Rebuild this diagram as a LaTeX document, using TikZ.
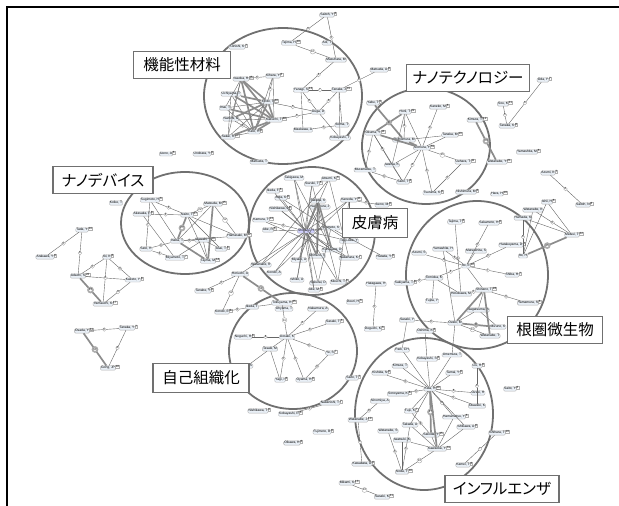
\documentclass[tikz,border=0pt]{standalone}
\usepackage{fontspec}
\setmainfont{Liberation Sans}
\newfontfamily\jpfont[RawFeature=+palt]{Noto Sans CJK JP}
\definecolor{rim}{HTML}{707070}
\definecolor{pill}{HTML}{EAF0F7}

\begin{document}
\begin{tikzpicture}[x=1pt,y=-1pt,
  au/.style={draw=gray!60,fill=pill,rounded corners=1.2pt,inner sep=0.7pt,
    font=\fontsize{3.3}{3.3}\selectfont},
  deg/.style={label={[degbox]east:#1}},
  degbox/.style={draw=gray!60,fill=white,inner sep=0.35pt,yshift=1.2pt,xshift=-0.5pt,
    font=\fontsize{3}{3}\selectfont},
  wt/.style={circle,draw=gray!65,fill=white,inner sep=0.45pt,
    font=\fontsize{2.8}{2.8}\selectfont},
  ed/.style={draw=black!60,line width=0.4pt},
  hv/.style={line width=1.7pt,draw=black!45},
  grp/.style={draw=rim,line width=1.8pt},
  topic/.style={draw=rim,line width=1.8pt,fill=white,minimum height=27pt,
    inner sep=0pt,font=\jpfont\fontsize{15.5}{15.5}\selectfont}]

\useasboundingbox (0,0) rectangle (619,506);
\draw[line width=1.6pt] (7,506) -- (7,7) -- (619,7);

% topic circles
\draw[grp] (283,96) ellipse [x radius=79pt, y radius=68pt];
\draw[grp] (426,146) ellipse [x radius=64pt, y radius=58pt];
\draw[grp] (185,223) ellipse [x radius=64pt, y radius=51pt];
\draw[grp] (312,231) ellipse [x radius=63pt, y radius=64pt];
\draw[grp] (477,275) ellipse [x radius=71pt, y radius=74pt];
\draw[grp] (293,351) ellipse [x radius=64pt, y radius=58pt];
\draw[grp] (424,414) ellipse [x radius=69pt, y radius=76pt];

% functional materials
\node[au,deg=6] (saitohY) at (327,15) {Saitoh, Y};
\node[au,deg=10] (tejimaH) at (289,43) {Tejima, H};
\node[au] (aoiT) at (327,43) {Aoi, T};
\node[au,deg=7] (konishiK) at (237,47) {Konishi, K};
\node[au] (masuharaM) at (336,60) {Masuhara, M};
\node[au,deg=6] (matsudaA) at (379,70) {Matsuda, A};
\node[au,deg=6] (kiharaY) at (273,76) {Kihara, Y};
\node[au,deg=15] (iwaokaH) at (241,79) {Iwaoka, H};
\node[au] (uchiyamaT) at (231,94) {Uchiyama, T};
\node[au,deg=13] (yanagiS) at (301,90) {Yanagi, S};
\node[au,deg=15] (tanakaJ) at (339,90) {Tanaka, J};
\node[au,deg=40] (endoT) at (268,102) {Endo, T};
\node[au] (imaiT) at (225,108) {Imai, T};
\node[au] (ougaD) at (318,112) {Ouga, D};
\node[au] (narumiA) at (231,119) {Narumi, A};
\node[au,deg=40] (kakuchiT) at (274,120) {Kakuchi, T};
\node[au] (maekawaA) at (303,130) {Maekawa, A};
\node[au] (ikomaT) at (342,125) {Ikoma, T};
\node[au,deg=6] (katoH) at (254,132) {Kato, H};
\node[au,deg=17] (sakaiR) at (228,137) {Sakai, R};
\node[au] (kobayashiT) at (340,138) {Kobayashi, T};
\node[au] (matsudaT) at (259,162) {Matsuda, T};
\node[au,deg=6] (uenoA) at (166,154) {Ueno, A};
\node[au,deg=6] (unobaraY) at (202,154) {Unobara, Y};

\path[ed] (saitohY) edge node[wt]{6} (tejimaH)
  (saitohY) edge node[wt]{6} (masuharaM)
  (tejimaH) edge node[wt]{10} (masuharaM)
  (masuharaM) edge node[wt]{6} (yanagiS)
  (matsudaA) edge node[wt]{6} (tanakaJ)
  (yanagiS) edge node[wt]{7} (tanakaJ)
  (yanagiS) edge (maekawaA)
  (yanagiS) edge node[wt]{6} (ougaD)
  (tanakaJ) edge node[wt]{6} (ougaD)
  (tanakaJ) edge (kobayashiT)
  (tanakaJ) edge (ikomaT)
  (ougaD) edge node[wt]{6} (kakuchiT)
  (ougaD) edge node[wt]{5} (endoT)
  (ougaD) edge (kobayashiT)
  (maekawaA) edge node[wt]{5} (ikomaT)
  (kiharaY) edge node[wt]{6} (iwaokaH)
  (kiharaY) edge node[wt]{8} (endoT)
  (kiharaY) edge (kakuchiT)
  (kiharaY) edge (katoH)
  (iwaokaH) edge[hv] (katoH)
  (iwaokaH) edge[hv] (endoT)
  (iwaokaH) edge (sakaiR)
  (iwaokaH) edge (imaiT)
  (iwaokaH) edge (narumiA)
  (iwaokaH) edge[hv] (kakuchiT)
  (uchiyamaT) edge[hv] (endoT)
  (uchiyamaT) edge (katoH)
  (uchiyamaT) edge[hv] (kakuchiT)
  (uchiyamaT) edge (sakaiR)
  (imaiT) edge[hv] (kakuchiT)
  (imaiT) edge (katoH)
  (imaiT) edge (endoT)
  (narumiA) edge[hv] (endoT)
  (narumiA) edge (kakuchiT)
  (narumiA) edge node[wt]{8} (katoH)
  (sakaiR) edge (katoH)
  (sakaiR) edge (endoT)
  (sakaiR) edge[hv] (kakuchiT)
  (katoH) edge[hv] (endoT)
  (katoH) edge[hv] (kakuchiT)
  (endoT) edge[hv] (kakuchiT);

% nanotechnology
\node[au,deg=5] (yabuT) at (373,103) {Yabu, T};
\node[au,deg=22] (horiiT) at (405,112) {Horii, T};
\node[au,deg=6] (kanekoM) at (438,107) {Kaneko, M};
\node[au,deg=14] (okumaY) at (373,133) {Okuma, Y};
\node[au] (shimomuraM) at (404,140) {Shimomura, M};
\node[au,deg=13] (tanakaM) at (450,135) {Tanaka, M};
\node[au,deg=55] (nomuraY) at (422,148) {Nomura, Y};
\node[au] (iwamaK) at (392,165) {Iwama, K};
\node[au,deg=11] (ueharaT) at (463,162) {Uehara, T};
\node[au] (muramatsuT) at (365,170) {Muramatsu, T};
\node[au,deg=8] (saitoT) at (403,182) {Saito, T};
\node[au,deg=6] (tsurumaK) at (432,193) {Tsuruma, K};
\node[au,deg=6] (nishimuraM) at (466,192) {Nishimura, M};
\node[au,deg=10] (haraH) at (497,194) {Hara, H};
\node[au,deg=12] (kimuraT) at (475,120) {Kimura, T};
\node[au,deg=11] (souK) at (503,104) {Sou, K};
\node[au,deg=8] (tanakaK) at (507,126) {Tanaka, K};
\node[au,deg=7] (odaY) at (543,80) {Oda, Y};
\node[au,deg=21] (watanabeY) at (497,162) {Watanabe, Y};
\node[au,deg=6] (yamashitaM) at (527,152) {Yamashita, M};

\path[ed] (yabuT) edge[hv] (shimomuraM)
  (horiiT) edge[hv] node[wt]{8} (okumaY)
  (okumaY) edge[hv] (nomuraY)
  (shimomuraM) edge[hv] (nomuraY)
  (horiiT) edge node[wt]{8} (shimomuraM)
  (horiiT) edge (nomuraY)
  (horiiT) edge (iwamaK)
  (kanekoM) edge node[wt]{6} (nomuraY)
  (tanakaM) edge (shimomuraM)
  (tanakaM) edge (nomuraY)
  (nomuraY) edge node[wt]{15} (ueharaT)
  (ueharaT) edge node[wt]{6} (tsurumaK)
  (nomuraY) edge node[wt]{6} (tsurumaK)
  (nomuraY) edge node[wt]{8} (saitoT)
  (nomuraY) edge (iwamaK)
  (okumaY) edge node[wt]{6} (iwamaK)
  (okumaY) edge node[wt]{6} (muramatsuT)
  (okumaY) edge (saitoT)
  (muramatsuT) edge node[wt]{6} (saitoT)
  (iwamaK) edge (saitoT)
  (kimuraT) edge[hv] node[wt]{14} (watanabeY)
  (souK) edge node[wt]{5} (tanakaK)
  (odaY) edge node[wt]{6} (tanakaK);

% rhizosphere
\node[au,deg=6] (tajimaT) at (455,222) {Tajima, T};
\node[au,deg=6] (sakamotoH) at (489,223) {Sakamoto, H};
\node[au] (yamashitaH) at (443,249) {Yamashita, H};
\node[au] (azumiS) at (419,253) {Azumi, S};
\node[au] (matsushitaS) at (476,251) {Matsushita, S};
\node[au,deg=6] (hatakeyamaD) at (511,245) {Hatakeyama, D};
\node[au,deg=22] (itoE) at (466,266) {Ito, E};
\node[au,deg=7] (shibaH) at (512,275) {Shiba, H};
\node[au,deg=6] (sakiyamaT) at (404,283) {Sakiyama, T};
\node[au] (tomiokaK) at (434,278) {Tomioka, K};
\node[au] (hosokawaM) at (461,294) {Hosokawa, M};
\node[au,deg=28] (shinanoT) at (484,290) {Shinano, T};
\node[au,deg=6] (yamamuraS) at (528,303) {Yamamura, S};
\node[au] (fujitaY) at (432,301) {Fujita, Y};
\node[au] (wagatsumaA) at (478,310) {Wagatsuma, A};
\node[au] (ozakiM) at (455,323) {Ozaki, M};
\node[au] (mizunoK) at (498,327) {Mizuno, K};
\node[au] (watanabeT) at (490,336) {Watanabe, T};
\node[au] (sasakiY) at (407,320) {Sasaki, Y};
\node[au,deg=6] (oshimaK) at (425,331) {Oshima, K};
\node[au] (hatagawaH) at (376,284) {Hatagawa, H};
\node[au,deg=6] (deuriH) at (353,302) {Deuri, H};
\node[au,deg=6] (deguchiK) at (373,329) {Deguchi, K};
\node[au,deg=7] (azumiK) at (548,173) {Azumi, K};
\node[au,deg=8] (saitohN) at (583,205) {Saitoh, N};
\node[au,deg=6] (ishiiH) at (547,202) {Ishii, H};
\node[au] (watanabeK) at (533,210) {Watanabe, K};
\node[au] (hamadaK) at (523,218) {Hamada, K};
\node[au,deg=22] (matsuiT) at (572,235) {Matsui, T};
\node[au] (itoH) at (523,256) {Ito, H};

\path[ed] (tajimaT) edge node[wt]{6} (hosokawaM)
  (sakamotoH) edge node[wt]{6} (itoE)
  (yamashitaH) edge node[wt]{6} (itoE)
  (azumiS) edge node[wt]{6} (itoE)
  (matsushitaS) edge (itoE)
  (hatakeyamaD) edge node[wt]{6} (itoE)
  (itoE) edge node[wt]{7} (shibaH)
  (itoE) edge (shinanoT)
  (tomiokaK) edge node[wt]{6} (itoE)
  (sakiyamaT) edge node[wt]{6} (tomiokaK)
  (tomiokaK) edge (hosokawaM)
  (fujitaY) edge (tomiokaK)
  (hosokawaM) edge node[wt]{6} (shinanoT)
  (shinanoT) edge node[wt]{6} (yamamuraS)
  (shinanoT) edge (wagatsumaA)
  (shinanoT) edge[hv] (ozakiM)
  (ozakiM) edge (wagatsumaA)
  (ozakiM) edge[hv] node[wt]{6} (mizunoK)
  (ozakiM) edge node[wt]{11} (watanabeT)
  (wagatsumaA) edge (mizunoK)
  (shinanoT) edge[hv] (watanabeT)
  (sasakiY) edge node[wt]{8} (ozakiM)
  (yamashitaH) edge (ozakiM)
  (hatagawaH) edge node[wt]{6} (deguchiK)
  (azumiK) edge node[wt]{6} (saitohN)
  (ishiiH) edge (matsuiT)
  (watanabeK) edge node[wt]{6} (matsuiT)
  (hamadaK) edge (matsuiT)
  (ishiiH) edge (itoH)
  (watanabeK) edge (itoH)
  (hamadaK) edge node[wt]{6} (itoH)
  (itoH) edge[hv] node[wt]{15} (matsuiT);

% skin disease
\node[au] (takigawaM) at (294,178) {Takigawa, M};
\node[au,deg=6] (suzukiT) at (312,184) {Suzuki, T};
\node[au,deg=6] (atsumiK) at (329,179) {Atsumi, K};
\node[au,deg=6] (ikedaF) at (273,191) {Ikeda, F};
\node[au,deg=6] (aritaK) at (281,198) {Arita, K};
\node[au] (takedaK) at (318,201) {Takeda, K};
\node[au,deg=11] (kanedaY) at (349,200) {Kaneda, Y};
\node[au,deg=6] (ikenoM) at (382,205) {Ikeno, M};
\node[au] (nakamuraJ) at (320,207) {Nakamura, J};
\node[au,deg=8] (nishikawaJ) at (279,209) {Nishikawa, J};
\node[au,deg=13] (kamuraT) at (261,220) {Kamura, T};
\node[au,deg=6] (abeR) at (268,230) {Abe, R};
\node[au,fill=blue!18] (shimizuH) at (306,231) {Shimizu, H};
\node[au] (iwamotoK) at (331,228) {Iwamoto, K};
\node[au] (tsujiabeY) at (349,241) {Tsuji-Abe, Y};
\node[au] (kurosawaD) at (332,250) {Kurosawa, D};
\node[au] (shimizuT) at (317,256) {Shimizu, T};
\node[au,deg=7] (nakaharaK) at (349,258) {Nakahara, K};
\node[au,deg=6] (hatadaY) at (384,257) {Hatada, Y};
\node[au] (miyakeA) at (299,260) {Miyake, A};
\node[au] (watanabeR) at (261,265) {Watanabe, R};
\node[au] (kondoA) at (274,273) {Kondo, A};
\node[au] (ishikoA) at (297,280) {Ishiko, A};
\node[au] (sakuraiD) at (318,283) {Sakurai, D};
\node[au,deg=6] (kikuchiT) at (338,282) {Kikuchi, T};
\node[au,deg=6] (abeM) at (314,290) {Abe, M};
\node[au] (horiuchiA) at (240,274) {Horiuchi, A};
\node[au,deg=6] (tanabeY) at (203,291) {Tanabe, Y};
\node[au,deg=6] (kondoE) at (222,312) {Kondo, E};

\path[ed] (shimizuH) edge (takigawaM) edge (suzukiT) edge node[wt]{6} (atsumiK)
  edge (ikedaF) edge (aritaK) edge[hv] (takedaK) edge (kanedaY) edge (nakamuraJ)
  edge (nishikawaJ) edge node[wt]{8} (kamuraT) edge (abeR) edge[hv] (iwamotoK)
  edge (tsujiabeY) edge (kurosawaD) edge[hv] (shimizuT) edge (nakaharaK)
  edge (miyakeA) edge (watanabeR) edge (kondoA) edge (ishikoA) edge (sakuraiD)
  edge (kikuchiT) edge (abeM) edge (horiuchiA)
  (takedaK) edge[hv] (kurosawaD)
  (takedaK) edge[hv] (shimizuT)
  (nakamuraJ) edge (shimizuT)
  (nakamuraJ) edge (miyakeA)
  (kanedaY) edge (tsujiabeY)
  (ikenoM) edge node[wt]{6} (kanedaY)
  (iwamotoK) edge (hatadaY)
  (iwamotoK) edge (sakuraiD)
  (suzukiT) edge (kikuchiT)
  (suzukiT) edge (ishikoA)
  (atsumiK) edge (nakaharaK)
  (atsumiK) edge (watanabeR)
  (takigawaM) edge (abeM)
  (takigawaM) edge (kurosawaD)
  (kanedaY) edge (kikuchiT)
  (kanedaY) edge (kondoA)
  (aritaK) edge (tsujiabeY)
  (nishikawaJ) edge (kurosawaD)
  (kamuraT) edge (nakaharaK)
  (tanabeY) edge node[wt]{6} (horiuchiA)
  (kondoE) edge node[wt]{12} (horiuchiA);

% nanodevices
\node[au,deg=6] (sugimotoH) at (150,200) {Sugimoto, H};
\node[au] (koikeT) at (116,203) {Koike, T};
\node[au,deg=6] (akasakaF) at (142,214) {Akasaka, F};
\node[au,deg=27] (naitoT) at (187,215) {Naito, T};
\node[au,deg=15] (matsudaM) at (213,204) {Matsuda, M};
\node[au,deg=12] (hamasakiM) at (237,236) {Hamasaki, M};
\node[au] (inabaT) at (177,241) {Inaba, T};
\node[au,deg=10] (iwasakiT) at (203,240) {Iwasaki, T};
\node[au] (satoH) at (146,249) {Sato, H};
\node[au,deg=7] (miyamotoT) at (175,258) {Miyamoto, T};
\node[au,deg=6] (asaiT) at (221,249) {Asai, T};
\node[au,deg=14] (tajimaM) at (208,261) {Tajima, M};

\path[ed] (sugimotoH) edge node[wt]{6} (naitoT)
  (akasakaF) edge node[wt]{6} (naitoT)
  (naitoT) edge node[wt]{22} (matsudaM)
  (naitoT) edge[hv] node[wt]{27} (inabaT)
  (naitoT) edge (hamasakiM)
  (naitoT) edge (asaiT)
  (naitoT) edge (tajimaM)
  (matsudaM) edge (inabaT)
  (matsudaM) edge node[wt]{12} (hamasakiM)
  (matsudaM) edge[hv] (tajimaM)
  (inabaT) edge node[wt]{8} (iwasakiT)
  (inabaT) edge node[wt]{6} (satoH)
  (inabaT) edge[hv] (tajimaM)
  (inabaT) edge (hamasakiM)
  (satoH) edge node[wt]{6} (miyamotoT)
  (akasakaF) edge (miyamotoT)
  (sugimotoH) edge (inabaT)
  (iwasakiT) edge (asaiT)
  (sugimotoH) edge node[wt]{7} (satoH)
  (tajimaM) edge (iwasakiT)
  (miyamotoT) edge (iwasakiT);

% small groups on the left
\node[au,deg=14] (tadaY) at (82,230) {Tada, Y};
\node[au,deg=6] (arakawaY) at (45,257) {Arakawa, Y};
\node[au,deg=6] (ikiK) at (107,257) {Iki, K};
\node[au,deg=22] (adachiS) at (78,276) {Adachi, S};
\node[au,deg=6] (kazetoY) at (133,280) {Kazeto, Y};
\node[au,deg=17] (yamauchiK) at (103,304) {Yamauchi, K};
\node[au,deg=11] (osadaY) at (82,331) {Osada, Y};
\node[au,deg=7] (tanakaY) at (127,328) {Tanaka, Y};
\node[au,deg=10] (gongJP) at (108,368) {Gong, JP};

\path[ed] (tadaY) edge node[wt]{6} (arakawaY)
  (tadaY) edge node[wt]{6} (adachiS)
  (ikiK) edge node[wt]{6} (adachiS)
  (ikiK) edge node[wt]{6} (kazetoY)
  (ikiK) edge (yamauchiK)
  (adachiS) edge node[wt]{6} (kazetoY)
  (adachiS) edge[hv] node[wt]{15} (yamauchiK)
  (kazetoY) edge node[wt]{8} (yamauchiK)
  (osadaY) edge node[wt]{8} (tanakaY)
  (osadaY) edge[hv] node[wt]{10} (gongJP)
  (tanakaY) edge node[wt]{8} (gongJP);

% self-assembly
\node[au,deg=25] (tokuyamaH) at (282,303) {Tokuyama, H};
\node[au] (ikedaT) at (252,307) {Ikeda, T};
\node[au] (ohyamaT) at (284,309) {Ohyama, T};
\node[au] (nakamuraA) at (318,309) {Nakamura, A};
\node[au,deg=6] (sasakiT) at (333,322) {Sasaki, T};
\node[au,deg=6] (noguchiH) at (243,337) {Noguchi, H};
\node[au] (uosakiK) at (287,337) {Uosaki, K};
\node[au] (tasakiM) at (270,349) {Tasaki, M};
\node[au,deg=7] (yeS) at (330,353) {Ye, S};
\node[au] (yagiS) at (247,366) {Yagi, S};
\node[au,deg=6] (yagiI) at (280,380) {Yagi, I};
\node[au,deg=6] (oyamaH) at (304,380) {Oyama, H};
\node[au,deg=7] (saitoT2) at (352,378) {Saito, T};
\node[au,deg=7] (nakanishiT) at (330,403) {Nakanishi, T};
\node[au,deg=6] (kobayashiR) at (289,414) {Kobayashi, R};
\node[au,deg=6] (nishikawaT) at (258,411) {Nishikawa, T};
\node[au,deg=6] (fujimotoB) at (322,432) {Fujimoto, B};
\node[au,deg=6] (oikawaH) at (292,443) {Oikawa, H};

\path[ed] (uosakiK) edge node[wt]{11} (tokuyamaH)
  (uosakiK) edge node[wt]{8} (nakamuraA)
  (uosakiK) edge node[wt]{6} (sasakiT)
  (uosakiK) edge node[wt]{8} (noguchiH)
  (uosakiK) edge (tasakiM)
  (uosakiK) edge node[wt]{6} (yeS)
  (uosakiK) edge node[wt]{6} (yagiI)
  (uosakiK) edge node[wt]{6} (oyamaH)
  (tasakiM) edge (yagiS)
  (tasakiM) edge (yagiI)
  (yeS) edge node[wt]{6} (oyamaH)
  (kondoE) edge node[wt]{8} (ikedaT)
  (ikedaT) edge (tokuyamaH)
  (horiuchiA) edge[hv] node[wt]{12} (tokuyamaH)
  (kobayashiR) edge node[wt]{6} (nakanishiT);

% influenza
\node[au] (parkCH) at (402,350) {Park, CH};
\node[au,deg=6] (kobayashiS) at (427,359) {Kobayashi, S};
\node[au] (umemuraT) at (452,355) {Umemura, T};
\node[au] (kimuraT2) at (400,366) {Kimura, T};
\node[au,deg=6] (kishidaN) at (380,373) {Kishida, N};
\node[au,deg=6] (liuH) at (477,366) {Liu, H};
\node[au,deg=6] (tamaiY) at (453,373) {Tamai, Y};
\node[au,deg=40] (kidaH) at (430,389) {Kida, H};
\node[au,deg=6] (sonoyamaK) at (398,394) {Sonoyama, K};
\node[au] (ozakiH) at (478,393) {Ozaki, H};
\node[au] (ninomiyaA) at (380,401) {Ninomiya, A};
\node[au] (okazakiK) at (477,406) {Okazaki, K};
\node[au,deg=7] (fujiiK) at (410,411) {Fujii, K};
\node[au,deg=10] (watanabeJ) at (358,420) {Watanabe, J};
\node[au,deg=6] (hamamatsuY) at (454,417) {Hamamatsu, Y};
\node[au] (takadaA) at (410,425) {Takada, A};
\node[au,deg=6] (ishikawaA) at (466,427) {Ishikawa, A};
\node[au] (watanabeS) at (388,431) {Watanabe, S};
\node[au,deg=15] (sakodaY) at (431,435) {Sakoda, Y};
\node[au] (iwatsukiK) at (402,440) {Iwatsuki, K};
\node[au,deg=31] (kawaokaY) at (437,449) {Kawaoka, Y};
\node[au,deg=6] (kawabataA) at (362,464) {Kawabata, A};
\node[au,deg=10] (nodaT) at (402,472) {Noda, T};
\node[au,deg=6] (kameiT) at (463,465) {Kamei, T};
\node[au,deg=10] (ishiharaT) at (497,433) {Ishihara, T};
\node[au,deg=6] (saitoY) at (510,389) {Saito, Y};
\node[au,deg=13] (mikamiK) at (347,483) {Mikami, K};
\node[au,deg=11] (sasakiK) at (382,497) {Sasaki, K};

\path[ed] (kidaH) edge (parkCH) edge (kobayashiS) edge (umemuraT) edge (kimuraT2)
  edge node[wt]{6} (kishidaN) edge (tamaiY) edge node[wt]{6} (sonoyamaK)
  edge node[wt]{6} (ozakiH) edge node[wt]{5} (okazakiK) edge (fujiiK)
  edge node[wt]{8} (hamamatsuY) edge (takadaA) edge[hv] node[wt]{27} (sakodaY)
  edge (ishikawaA) edge[hv] (kawaokaY)
  (liuH) edge node[wt]{6} (okazakiK)
  (ninomiyaA) edge node[wt]{8} (watanabeJ)
  (watanabeJ) edge node[wt]{6} (kawabataA)
  (takadaA) edge node[wt]{6} (nodaT)
  (watanabeS) edge node[wt]{6} (nodaT)
  (iwatsukiK) edge (nodaT)
  (kawaokaY) edge node[wt]{10} (nodaT)
  (kawaokaY) edge (sakodaY)
  (kawaokaY) edge (hamamatsuY)
  (kawaokaY) edge (takadaA)
  (kawaokaY) edge (ishikawaA)
  (kawaokaY) edge (iwatsukiK)
  (fujiiK) edge node[wt]{8} (sakodaY)
  (ishiharaT) edge node[wt]{7} (kameiT)
  (mikamiK) edge node[wt]{10} (sasakiK)
  (parkCH) edge (sasakiY)
  (umemuraT) edge (ozakiM)
  (kobayashiS) edge (oshimaK);

% topic labels
\node[topic,minimum width=97pt] (kinou) at (182,65) {機能性材料};
\node[topic,minimum width=123pt] (nanotech) at (468,78) {ナノテクノロジー};
\node[topic,minimum width=100pt] (nanodev) at (103,180) {ナノデバイス};
\node[topic,minimum width=65pt,minimum height=29pt] (hifu) at (375,223) {皮膚病};
\node[topic,minimum width=95pt] (konken) at (555,330) {根圏微生物};
\node[topic,minimum width=96pt,minimum height=29pt] (jiko) at (201,378) {自己組織化};
\node[topic,minimum width=114pt] (influ) at (502,489) {インフルエンザ};

\end{tikzpicture}
\end{document}
